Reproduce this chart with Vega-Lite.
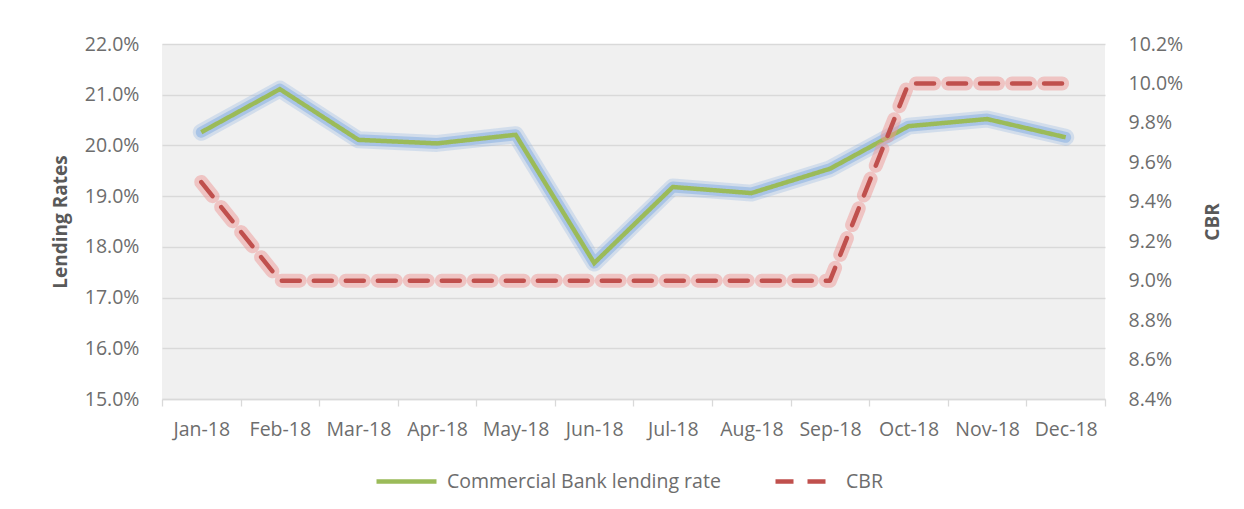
{
  "$schema": "https://vega.github.io/schema/vega-lite/v6.json",
  "width": 943,
  "height": 355,
  "autosize": "none",
  "padding": {"left": 162, "top": 44, "right": 139, "bottom": 110},
  "background": "white",
  "config": {
    "font": "Open Sans",
    "view": {"fill": "#f0f0f0", "stroke": null},
    "axis": {
      "labelFont": "Open Sans",
      "labelFontSize": 19.5,
      "labelColor": "#6d6d6d",
      "titleFont": "Open Sans",
      "titleFontSize": 19,
      "titleFontWeight": "bold",
      "titleColor": "#595959"
    },
    "legend": {
      "orient": "none",
      "legendX": 212,
      "legendY": 405,
      "direction": "horizontal",
      "columns": 2,
      "symbolType": "stroke",
      "symbolSize": 3600,
      "symbolStrokeWidth": 4.5,
      "labelOffset": 8,
      "columnPadding": 45,
      "labelFont": "Open Sans",
      "labelFontSize": 19.5,
      "labelColor": "#6d6d6d",
      "labelLimit": 500
    }
  },
  "data": {
    "values": [
      {"month": "Jan-18", "lending": 0.2026, "cbr": 0.095},
      {"month": "Feb-18", "lending": 0.2111, "cbr": 0.090},
      {"month": "Mar-18", "lending": 0.2011, "cbr": 0.090},
      {"month": "Apr-18", "lending": 0.2004, "cbr": 0.090},
      {"month": "May-18", "lending": 0.2021, "cbr": 0.090},
      {"month": "Jun-18", "lending": 0.1768, "cbr": 0.090},
      {"month": "Jul-18", "lending": 0.1918, "cbr": 0.090},
      {"month": "Aug-18", "lending": 0.1906, "cbr": 0.090},
      {"month": "Sep-18", "lending": 0.1954, "cbr": 0.090},
      {"month": "Oct-18", "lending": 0.2038, "cbr": 0.100},
      {"month": "Nov-18", "lending": 0.2052, "cbr": 0.100},
      {"month": "Dec-18", "lending": 0.2016, "cbr": 0.100}
    ]
  },
  "encoding": {
    "x": {
      "field": "month",
      "type": "nominal",
      "sort": null,
      "bandPosition": 0.5,
      "scale": {"type": "band", "paddingInner": 0, "paddingOuter": 0},
      "axis": {
        "title": null,
        "labelAngle": 0,
        "tickBand": "extent",
        "domainColor": "#d9d9d9",
        "domainWidth": 1.3,
        "tickColor": "#d9d9d9",
        "tickWidth": 1.3,
        "tickSize": 7,
        "labelPadding": 14,
        "grid": false
      }
    }
  },
  "layer": [
    {
      "encoding": {
        "y": {
          "field": "lending",
          "type": "quantitative",
          "scale": {"domain": [0.15, 0.22], "nice": false, "zero": false},
          "axis": {
            "orient": "left",
            "title": "Lending Rates",
            "format": ".1%",
            "values": [0.15, 0.16, 0.17, 0.18, 0.19, 0.20, 0.21, 0.22],
            "ticks": false,
            "domain": false,
            "labelPadding": 23,
            "titlePadding": 14,
            "grid": true,
            "gridColor": "#d9d9d9",
            "gridWidth": 1.3
          }
        }
      },
      "layer": [
        {"mark": {"type": "line", "color": "#8db4e2", "strokeWidth": 17, "opacity": 0.3, "strokeJoin": "round", "strokeCap": "round"}},
        {"mark": {"type": "line", "color": "#8db4e2", "strokeWidth": 11, "opacity": 0.6, "strokeJoin": "round", "strokeCap": "round"}},
        {
          "mark": {"type": "line", "strokeWidth": 4.5, "strokeJoin": "miter"},
          "encoding": {
            "color": {"datum": "Commercial Bank lending rate", "type": "nominal", "title": null,
              "scale": {"domain": ["Commercial Bank lending rate", "CBR"], "range": ["#9bbb59", "#c0504d"]}},
            "strokeDash": {"datum": "Commercial Bank lending rate", "type": "nominal", "title": null,
              "scale": {"domain": ["Commercial Bank lending rate", "CBR"], "range": [[1, 0], [18, 14]]}}
          }
        }
      ]
    },
    {
      "encoding": {
        "y": {
          "field": "cbr",
          "type": "quantitative",
          "scale": {"domain": [0.084, 0.102], "nice": false, "zero": false},
          "axis": {
            "orient": "right",
            "title": "CBR",
            "titleAngle": 270,
            "format": ".1%",
            "values": [0.084, 0.086, 0.088, 0.090, 0.092, 0.094, 0.096, 0.098, 0.100, 0.102],
            "ticks": false,
            "domain": false,
            "labelPadding": 23,
            "titlePadding": 40,
            "grid": false
          }
        }
      },
      "layer": [
        {"mark": {"type": "line", "color": "#ee9896", "strokeWidth": 14, "opacity": 0.5, "strokeDash": [18, 14], "strokeCap": "round", "strokeJoin": "round"}},
        {
          "mark": {"type": "line", "strokeWidth": 4.5, "strokeCap": "round", "strokeJoin": "round"},
          "encoding": {
            "color": {"datum": "CBR", "type": "nominal", "title": null},
            "strokeDash": {"datum": "CBR", "type": "nominal", "title": null}
          }
        }
      ]
    }
  ],
  "resolve": {"scale": {"y": "independent"}}
}
